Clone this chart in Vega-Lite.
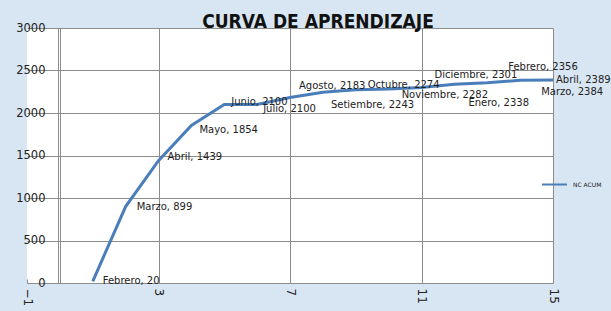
{
  "$schema": "https://vega.github.io/schema/vega-lite/v6.json",
  "width": 526,
  "height": 255,
  "autosize": "none",
  "padding": {"left": 27, "top": 28, "right": 58, "bottom": 28},
  "background": "#d8e6f3",
  "config": {"view": {"fill": "white", "stroke": null}, "font": "DejaVu Sans"},
  "title": {
    "text": "CURVA DE APRENDIZAJE",
    "font": "Liberation Sans Narrow, DejaVu Sans Condensed, sans-serif",
    "fontSize": 19,
    "fontWeight": "bold",
    "color": "#111111",
    "anchor": "middle",
    "dx": 28,
    "dy": 26,
    "baseline": "alphabetic",
    "offset": 1
  },
  "data": {
    "values": [
      {"x": 1, "mes": "Febrero", "y": 20, "serie": "NC ACUM"},
      {"x": 2, "mes": "Marzo", "y": 899, "serie": "NC ACUM"},
      {"x": 3, "mes": "Abril", "y": 1439, "serie": "NC ACUM"},
      {"x": 4, "mes": "Mayo", "y": 1854, "serie": "NC ACUM"},
      {"x": 5, "mes": "Junio", "y": 2100, "serie": "NC ACUM"},
      {"x": 6, "mes": "Julio", "y": 2100, "serie": "NC ACUM"},
      {"x": 7, "mes": "Agosto", "y": 2183, "serie": "NC ACUM"},
      {"x": 8, "mes": "Setiembre", "y": 2243, "serie": "NC ACUM"},
      {"x": 9, "mes": "Octubre", "y": 2274, "serie": "NC ACUM"},
      {"x": 10, "mes": "Noviembre", "y": 2282, "serie": "NC ACUM"},
      {"x": 11, "mes": "Diciembre", "y": 2301, "serie": "NC ACUM"},
      {"x": 12, "mes": "Enero", "y": 2338, "serie": "NC ACUM"},
      {"x": 13, "mes": "Febrero", "y": 2356, "serie": "NC ACUM"},
      {"x": 14, "mes": "Marzo", "y": 2384, "serie": "NC ACUM"},
      {"x": 15, "mes": "Abril", "y": 2389, "serie": "NC ACUM"}
    ]
  },
  "transform": [{"calculate": "datum.mes + ', ' + datum.y", "as": "label"}],
  "encoding": {
    "x": {
      "field": "x",
      "type": "quantitative",
      "scale": {"domain": [-1, 15], "nice": false, "zero": false},
      "axis": {
        "values": [-1, 0, 3, 7, 11, 15],
        "labelExpr": "datum.value == 0 ? '' : datum.label",
        "labelAngle": 90,
        "labelFontSize": 12,
        "labelColor": "#222222",
        "labelPadding": 9,
        "gridColor": "#8c8c8c",
        "gridOpacity": {"condition": {"test": "datum.value == -1", "value": 0}, "value": 1},
        "domainColor": "#8c8c8c",
        "tickColor": "#8c8c8c",
        "tickSize": -4,
        "title": null
      }
    },
    "y": {
      "field": "y",
      "type": "quantitative",
      "scale": {"domain": [0, 3000], "nice": false},
      "axis": {
        "values": [0, 500, 1000, 1500, 2000, 2500, 3000],
        "format": "d",
        "offset": -31,
        "tickSize": 0,
        "labelPadding": 13,
        "labelFontSize": 11.5,
        "labelColor": "#222222",
        "gridColor": "#8c8c8c",
        "domainColor": "#8c8c8c",
        "title": null
      }
    }
  },
  "layer": [
    {
      "mark": {"type": "line", "strokeWidth": 3},
      "encoding": {
        "color": {
          "field": "serie",
          "type": "nominal",
          "scale": {"range": ["#4a7ebb"]},
          "legend": {
            "orient": "none",
            "legendX": 514,
            "legendY": 143,
            "symbolType": "stroke",
            "symbolSize": 625,
            "symbolStrokeWidth": 2,
            "labelFontSize": 6,
            "labelOffset": 5,
            "labelColor": "#222222",
            "title": null
          }
        }
      }
    },
    {"transform": [{"filter": "datum.x == 1"}], "mark": {"type": "text", "align": "left", "baseline": "middle", "dx": 10, "dy": 0, "fontSize": 10, "color": "#222222"}, "encoding": {"text": {"field": "label"}}},
    {"transform": [{"filter": "datum.x == 2"}], "mark": {"type": "text", "align": "left", "baseline": "middle", "dx": 11, "dy": 0, "fontSize": 10, "color": "#222222"}, "encoding": {"text": {"field": "label"}}},
    {"transform": [{"filter": "datum.x == 3"}], "mark": {"type": "text", "align": "left", "baseline": "middle", "dx": 9, "dy": -4, "fontSize": 10, "color": "#222222"}, "encoding": {"text": {"field": "label"}}},
    {"transform": [{"filter": "datum.x == 4"}], "mark": {"type": "text", "align": "left", "baseline": "middle", "dx": 8, "dy": 5, "fontSize": 10, "color": "#222222"}, "encoding": {"text": {"field": "label"}}},
    {"transform": [{"filter": "datum.x == 5"}], "mark": {"type": "text", "align": "left", "baseline": "middle", "dx": 7, "dy": -3, "fontSize": 10, "color": "#222222"}, "encoding": {"text": {"field": "label"}}},
    {"transform": [{"filter": "datum.x == 6"}], "mark": {"type": "text", "align": "left", "baseline": "middle", "dx": 6, "dy": 4, "fontSize": 10, "color": "#222222"}, "encoding": {"text": {"field": "label"}}},
    {"transform": [{"filter": "datum.x == 7"}], "mark": {"type": "text", "align": "left", "baseline": "middle", "dx": 9, "dy": -11, "fontSize": 10, "color": "#222222"}, "encoding": {"text": {"field": "label"}}},
    {"transform": [{"filter": "datum.x == 8"}], "mark": {"type": "text", "align": "left", "baseline": "middle", "dx": 8, "dy": 13, "fontSize": 10, "color": "#222222"}, "encoding": {"text": {"field": "label"}}},
    {"transform": [{"filter": "datum.x == 9"}], "mark": {"type": "text", "align": "left", "baseline": "middle", "dx": 12, "dy": -5, "fontSize": 10, "color": "#222222"}, "encoding": {"text": {"field": "label"}}},
    {"transform": [{"filter": "datum.x == 10"}], "mark": {"type": "text", "align": "left", "baseline": "middle", "dx": 13, "dy": 6, "fontSize": 10, "color": "#222222"}, "encoding": {"text": {"field": "label"}}},
    {"transform": [{"filter": "datum.x == 11"}], "mark": {"type": "text", "align": "left", "baseline": "middle", "dx": 13, "dy": -12, "fontSize": 10, "color": "#222222"}, "encoding": {"text": {"field": "label"}}},
    {"transform": [{"filter": "datum.x == 12"}], "mark": {"type": "text", "align": "left", "baseline": "middle", "dx": 14, "dy": 19, "fontSize": 10, "color": "#222222"}, "encoding": {"text": {"field": "label"}}},
    {"transform": [{"filter": "datum.x == 13"}], "mark": {"type": "text", "align": "left", "baseline": "middle", "dx": 21, "dy": -16, "fontSize": 10, "color": "#222222"}, "encoding": {"text": {"field": "label"}}},
    {"transform": [{"filter": "datum.x == 14"}], "mark": {"type": "text", "align": "left", "baseline": "middle", "dx": 21, "dy": 12, "fontSize": 10, "color": "#222222"}, "encoding": {"text": {"field": "label"}}},
    {"transform": [{"filter": "datum.x == 15"}], "mark": {"type": "text", "align": "left", "baseline": "middle", "dx": 3, "dy": 0, "fontSize": 10, "color": "#222222"}, "encoding": {"text": {"field": "label"}}}
  ]
}
